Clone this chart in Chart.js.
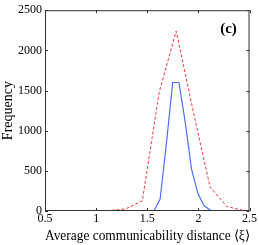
<!DOCTYPE html>
<html>
<head>
<meta charset="utf-8">
<script src="https://cdn.jsdelivr.net/npm/chart.js@4"></script>
<style>
  html, body { margin: 0; padding: 0; background: #fff; }
  #wrap { width: 258px; height: 245px; }
</style>
</head>
<body>
<div id="wrap"><canvas id="chart" width="258" height="245"></canvas></div>
<script>
// Data
const redX = [0.955, 1.121, 1.286, 1.452, 1.617, 1.783, 1.948, 2.114, 2.279, 2.445];
const redY = [2, 5, 25, 126, 1480, 2240, 1250, 300, 55, 5];
const blueX = [1.565, 1.626, 1.688, 1.749, 1.810, 1.872, 1.933, 1.995, 2.056, 2.118];
const blueY = [0, 150, 850, 1600, 1600, 1100, 520, 220, 65, 10];
const xTicks = [0.5, 1, 1.5, 2, 2.5];
const yTicks = [0, 500, 1000, 1500, 2000, 2500];

const serif = 'Liberation Serif';

function toPoints(xs, ys) {
  return xs.map((x, i) => ({ x: x, y: ys[i] }));
}

// Box with inward ticks on all four sides, plus panel label
const boxPlugin = {
  id: 'box',
  afterDraw(chart) {
    const { ctx, chartArea: a, scales } = chart;
    ctx.save();
    ctx.strokeStyle = '#333';
    ctx.lineWidth = 1;
    ctx.strokeRect(a.left + 0.5, a.top + 0.5, a.right - a.left - 1, a.bottom - a.top - 1);
    const len = 3;
    ctx.beginPath();
    xTicks.forEach(v => {
      const px = Math.round(scales.x.getPixelForValue(v)) + 0.5;
      ctx.moveTo(px, a.bottom); ctx.lineTo(px, a.bottom - len);
      ctx.moveTo(px, a.top); ctx.lineTo(px, a.top + len);
    });
    yTicks.forEach(v => {
      const py = Math.round(scales.y.getPixelForValue(v)) + 0.5;
      ctx.moveTo(a.left, py); ctx.lineTo(a.left + len, py);
      ctx.moveTo(a.right, py); ctx.lineTo(a.right - len, py);
    });
    ctx.stroke();
    ctx.fillStyle = '#000';
    ctx.font = 'bold 15px "' + serif + '"';
    ctx.textAlign = 'center';
    ctx.textBaseline = 'middle';
    ctx.fillText('(c)', a.right - 21, a.top + 19);
    ctx.restore();
  }
};

new Chart(document.getElementById('chart'), {
  type: 'scatter',
  data: {
    datasets: [
      {
        label: 'red',
        data: toPoints(redX, redY),
        showLine: true,
        borderColor: '#f03a3a',
        borderWidth: 1,
        borderDash: [3, 2],
        pointRadius: 0,
        tension: 0
      },
      {
        label: 'blue',
        data: toPoints(blueX, blueY),
        showLine: true,
        borderColor: '#4a6cff',
        borderWidth: 1.2,
        pointRadius: 0,
        tension: 0
      }
    ]
  },
  options: {
    responsive: false,
    animation: false,
    layout: { padding: { top: 7, right: 7, left: 0, bottom: 0 } },
    plugins: { legend: { display: false }, tooltip: { enabled: false } },
    scales: {
      x: {
        type: 'linear',
        min: 0.5,
        max: 2.5,
        afterBuildTicks: s => { s.ticks = xTicks.map(v => ({ value: v })); },
        afterFit: s => { s.height = 34; },
        grid: { display: false, drawTicks: false },
        border: { display: false },
        ticks: {
          color: '#000',
          padding: 1,
          maxRotation: 0,
          font: { family: serif, size: 12 },
          callback: v => String(v)
        },
        title: {
          display: true,
          text: 'Average communicability distance ⟨ξ⟩',
          color: '#000',
          padding: { top: 0, bottom: 0 },
          font: { family: serif, size: 14 }
        }
      },
      y: {
        min: 0,
        max: 2500,
        afterBuildTicks: s => { s.ticks = yTicks.map(v => ({ value: v })); },
        afterFit: s => { s.width = 45; },
        grid: { display: false, drawTicks: false },
        border: { display: false },
        ticks: {
          color: '#000',
          padding: 3,
          font: { family: serif, size: 12 },
          callback: v => String(v)
        },
        title: {
          display: true,
          text: 'Frequency',
          color: '#000',
          padding: { top: 0, bottom: 0 },
          font: { family: serif, size: 14 }
        }
      }
    }
  },
  plugins: [boxPlugin]
});
</script>
</body>
</html>
